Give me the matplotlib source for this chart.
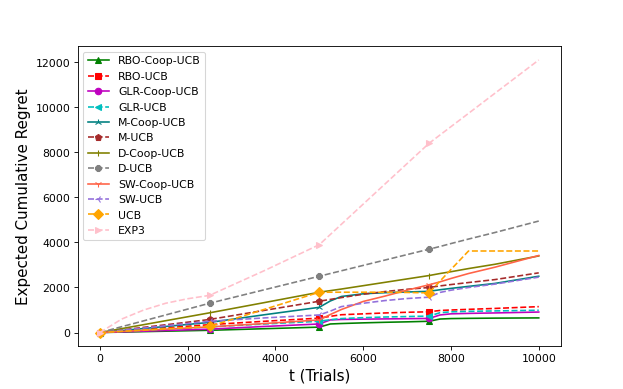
import matplotlib.pyplot as plt

# trial grid (markers every 2500 trials)
trials = [0, 500, 1000, 1500, 2000, 2500, 3750, 5000, 5250, 5500, 6000,
          6500, 7000, 7500, 7750, 8000, 8400, 9000, 10000]
marker_idx = [0, 5, 7, 13]

rbo_coop_ucb = [0, 20, 40, 60, 80, 100, 170, 240, 380, 400, 430, 455, 475, 500, 600, 620, 630, 640, 650]
rbo_ucb = [0, 70, 140, 210, 280, 350, 500, 640, 720, 790, 830, 870, 900, 920, 980, 1000, 1030, 1070, 1150]
glr_coop_ucb = [0, 30, 60, 90, 120, 150, 270, 380, 560, 580, 595, 605, 615, 625, 780, 830, 850, 870, 910]
glr_ucb = [0, 50, 100, 150, 200, 250, 380, 500, 570, 620, 660, 690, 710, 730, 880, 920, 940, 960, 990]
m_coop_ucb = [0, 90, 180, 270, 360, 450, 790, 1120, 1400, 1600, 1720, 1770, 1800, 1830, 1900, 1960, 2050, 2180, 2500]
m_ucb = [0, 115, 230, 345, 460, 580, 985, 1390, 1470, 1550, 1700, 1820, 1920, 2000, 2070, 2130, 2220, 2350, 2650]
d_coop_ucb = [0, 175, 350, 525, 700, 875, 1330, 1790, 1860, 1930, 2080, 2230, 2380, 2530, 2620, 2700, 2840, 3030, 3400]
d_ucb = [0, 260, 520, 780, 1040, 1300, 1900, 2500, 2620, 2740, 2980, 3220, 3460, 3700, 3820, 3950, 4150, 4440, 4950]
sw_coop_ucb = [0, 50, 100, 150, 200, 250, 400, 560, 800, 1020, 1380, 1620, 1880, 2120, 2250, 2400, 2620, 2900, 3420]
sw_ucb = [0, 100, 200, 300, 400, 500, 650, 780, 950, 1150, 1300, 1420, 1510, 1570, 1780, 1880, 2000, 2150, 2460]
ucb = [0, 55, 110, 165, 220, 270, 1030, 1790, 1790, 1790, 1790, 1790, 1780, 1760, 2280, 2800, 3620, 3620, 3620]
exp3 = [0, 600, 1000, 1300, 1500, 1650, 2750, 3900, 4350, 4800, 5700, 6600, 7500, 8400, 8770, 9140, 9730, 10620, 12100]

series = [
    ("RBO-Coop-UCB", rbo_coop_ucb, "green", "-", "^"),
    ("RBO-UCB", rbo_ucb, "red", "--", "s"),
    ("GLR-Coop-UCB", glr_coop_ucb, "m", "-", "o"),
    ("GLR-UCB", glr_ucb, "c", "--", "<"),
    ("M-Coop-UCB", m_coop_ucb, "teal", "-", "2"),
    ("M-UCB", m_ucb, "brown", "--", "p"),
    ("D-Coop-UCB", d_coop_ucb, "olive", "-", "|"),
    ("D-UCB", d_ucb, "gray", "--", "8"),
    ("SW-Coop-UCB", sw_coop_ucb, "tomato", "-", "1"),
    ("SW-UCB", sw_ucb, "mediumpurple", "--", "3"),
    ("UCB", ucb, "orange", "--", "D"),
    ("EXP3", exp3, "pink", "--", ">"),
]


def plot_regret():
    plt.figure(figsize=(8, 5), dpi=623 / 8)
    for name, vals, color, ls, mk in series:
        plt.plot(trials, vals, color=color, linestyle=ls, marker=mk,
                 markevery=marker_idx, label=name)
    plt.xlabel("t (Trials)", fontsize=14)
    plt.ylabel("Expected Cumulative Regret", fontsize=14)
    plt.legend(loc="upper left")
    plt.savefig("out.png")


if __name__ == "__main__":
    plot_regret()
